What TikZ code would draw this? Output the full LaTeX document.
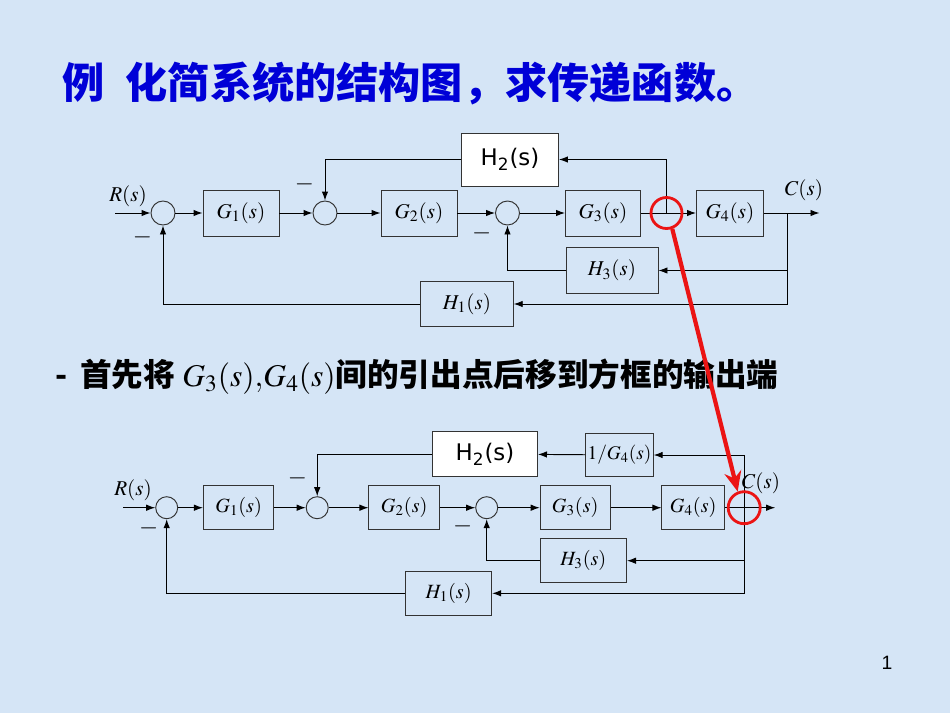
\documentclass[tikz,border=0pt]{standalone}
\usepackage{mathptmx}
\usepackage{fontspec}
\setmainfont{Liberation Serif}
\newfontfamily\cjkfont{Noto Sans CJK SC}
\newfontfamily\sansfont{DejaVu Sans}
\newfontfamily\numfont{Liberation Sans}
\usetikzlibrary{arrows.meta,calc,positioning}
\definecolor{bgblue}{RGB}{213,229,246}
\definecolor{titleblue}{RGB}{0,0,215}
\definecolor{markred}{RGB}{235,20,20}
\tikzset{%
	block/.style    = {draw=black!80, rectangle, minimum width=1.5cm, minimum height=0.92cm, inner sep=1pt, font=\fontsize{12}{14}\selectfont},
	bblock/.style   = {block, minimum width=1.41cm, minimum height=0.88cm, font=\fontsize{11.5}{13}\selectfont},
	wblock/.style   = {block, fill=white, font=\sansfont\fontsize{13}{15}\selectfont},
	sum/.style      = {draw=black!80, circle, minimum size=0.48cm, inner sep=0pt}, % Adder
	waypoint/.style = {coordinate},
	sig/.style      = {font=\fontsize{12}{14}\selectfont, inner sep=1pt}, % signal name
	minus/.style    = {font=\fontsize{14}{14}\selectfont, inner sep=1pt},
	ring/.style     = {draw=markred, line width=1.6pt, circle, inner sep=0pt},
	redarrow/.style = {markred, line width=2.4pt, -{Stealth[length=4mm,width=3.4mm]}},
}

\begin{document}
\begin{tikzpicture}[node distance=1.5cm,>={Latex[length=1.8mm,width=1.3mm]},line width=0.55pt]
		\fill[bgblue] (0,0) rectangle (19,-14.26);
		
		% title and remark
		\node [anchor=west,inner sep=0pt,text=titleblue,font=\cjkfont\bfseries\fontsize{24}{28}\selectfont] (title) at (1.24,-1.66) {例\hspace{0.5em}化简系统的结构图，求传递函数。};
		\node [anchor=west,inner sep=0pt,font=\cjkfont\bfseries\fontsize{18}{22}\selectfont] (remark) at (1.1,-7.54) {-\hspace{0.4em}首先将 $G_3(s){,}G_4(s)$间的引出点后移到方框的输出端};
		\node [font=\numfont\fontsize{11}{13}\selectfont] (pagenum) at (17.74,-13.26) {1};
		
		% original diagram
		\node [waypoint] (in1) at (2.3,-4.26) {};
		\node [sum] (r1) at (3.26,-4.26) {};
		\node [block,minimum width=1.52cm] (g1) [right of=r1,node distance=1.56cm] {$G_1(s)$};
		\node [sum] (r2) [right of=g1,node distance=1.68cm] {};
		\node [block,minimum width=1.52cm] (g2) [right of=r2,node distance=1.88cm] {$G_2(s)$};
		\node [sum] (r3) [right of=g2,node distance=1.77cm] {};
		\node [block] (g3) [right of=r3,node distance=1.91cm] {$G_3(s)$};
		\node [waypoint] (b1) [right of=g3,node distance=1.27cm] {};
		\node [block,minimum width=1.34cm] (g4) [right of=b1,node distance=1.27cm] {$G_4(s)$};
		\node [waypoint] (b2) [right of=g4,node distance=1.15cm] {};
		\node [waypoint] (out1) [right of=b2,node distance=0.64cm] {};
		\node [wblock,minimum width=1.94cm,minimum height=1.06cm] (h2) at (10.2,-3.19) {H\textsubscript{2}(s)};
		\node [block,minimum width=1.84cm] (h3) at (12.24,-5.41) {$H_3(s)$};
		\node [block,minimum width=1.85cm,minimum height=0.9cm] (h1) at (9.34,-6.08) {$H_1(s)$};
		\node [sig] (rlab1) at (2.56,-3.92) {$R(s)$};
		\node [sig] (clab1) at (16.08,-3.8) {$C(s)$};
		
		\draw[->] (in1) -- (r1);
		\draw[->] (r1) -- (g1);
		\draw[->] (g1) -- (r2);
		\draw[->] (r2) -- (g2);
		\draw[->] (g2) -- (r3);
		\draw[->] (r3) -- (g3);
		\draw[->] (g3) -- (g4);
		\draw[->] (g4) -- (out1);
		\draw[->] (b1) |- (h2);
		\draw[->] (h2) -| node[minus,pos=0.8,left=5pt] {$-$} (r2);
		\draw[->] (b2) |- (h3);
		\draw[->] (h3) -| node[minus,pos=0.91,left=8pt] {$-$} (r3);
		\draw[->] (b2) |- (h1);
		\draw[->] (h1) -| node[minus,pos=0.924,left=5pt] {$-$} (r1);
		
		% after moving the take-off point
		\node [waypoint] (in2) at (2.46,-10.154) {};
		\node [sum,minimum size=0.44cm] (s1) at (3.334,-10.154) {};
		\node [bblock] (g1b) [right of=s1,node distance=1.44cm] {$G_1(s)$};
		\node [sum,minimum size=0.44cm] (s2) [right of=g1b,node distance=1.57cm] {};
		\node [bblock] (g2b) [right of=s2,node distance=1.74cm] {$G_2(s)$};
		\node [sum,minimum size=0.44cm] (s3) [right of=g2b,node distance=1.65cm] {};
		\node [bblock,minimum width=1.4cm] (g3b) [right of=s3,node distance=1.77cm] {$G_3(s)$};
		\node [bblock,minimum width=1.25cm] (g4b) [right of=g3b,node distance=2.36cm] {$G_4(s)$};
		\node [waypoint] (b3) [right of=g4b,node distance=1.02cm] {};
		\node [waypoint] (out2) [right of=b3,node distance=0.62cm] {};
		\node [wblock,minimum width=2.1cm,minimum height=0.9cm] (h2b) at (9.7,-9.08) {H\textsubscript{2}(s)};
		\node [bblock,minimum width=1.25cm,minimum height=0.87cm,font=\fontsize{11}{13}\selectfont] (g4inv) at (12.39,-9.1) {$1/G_4(s)$};
		\node [bblock,minimum width=1.73cm,minimum height=0.87cm] (h3b) at (11.666,-11.214) {$H_3(s)$};
		\node [bblock,minimum width=1.72cm,minimum height=0.87cm] (h1b) at (8.974,-11.866) {$H_1(s)$};
		\node [sig] (rlab2) at (2.66,-9.8) {$R(s)$};
		\node [sig] (clab2) at (15.22,-9.66) {$C(s)$};
		
		\draw[->] (in2) -- (s1);
		\draw[->] (s1) -- (g1b);
		\draw[->] (g1b) -- (s2);
		\draw[->] (s2) -- (g2b);
		\draw[->] (g2b) -- (s3);
		\draw[->] (s3) -- (g3b);
		\draw[->] (g3b) -- (g4b);
		\draw[->] (g4b) -- (out2);
		\draw[->] (b3) |- (g4inv);
		\draw[->] (g4inv) -- (h2b);
		\draw[->] (h2b) -| node[minus,pos=0.79,left=4.5pt] {$-$} (s2);
		\draw[->] (b3) |- (h3b);
		\draw[->] (h3b) -| node[minus,pos=0.91,left=7pt] {$-$} (s3);
		\draw[->] (b3) |- (h1b);
		\draw[->] (h1b) -| node[minus,pos=0.94,left=3.5pt] {$-$} (s1);
		
		% red marks
		\node [ring,minimum size=0.62cm] (ring1) at (b1) {};
		\node [ring,minimum size=0.64cm] (ring2) at (b3) {};
		\draw[redarrow] (ring1.-70) -- (ring2.112);
\end{tikzpicture}
\end{document}
